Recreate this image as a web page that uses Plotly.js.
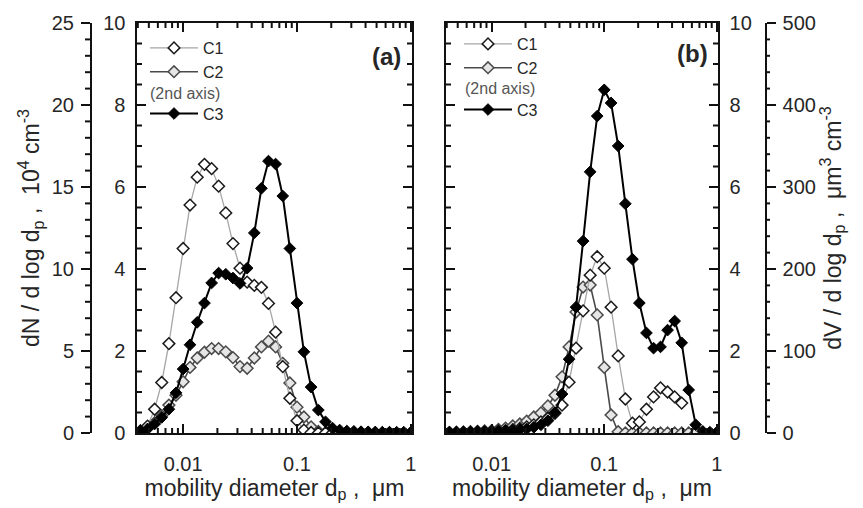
<!DOCTYPE html>
<html><head><meta charset="utf-8">
<script src="https://cdn.plot.ly/plotly-3.0.1.min.js"></script>
<style>html,body{margin:0;padding:0;background:#fff}#chart{width:863px;height:508px}</style>
</head><body><div id="chart"></div>
<script>
// mobility diameter, um (shared size bins)
const dp = [0.00422,0.00487,0.00562,0.00649,0.00750,0.00866,0.0100,0.0115,0.0133,0.0154,
            0.0178,0.0205,0.0237,0.0274,0.0316,0.0365,0.0422,0.0487,0.0562,0.0649,
            0.0750,0.0866,0.100,0.115,0.133,0.154,0.178,0.205,0.237,0.274,
            0.316,0.365,0.422,0.487,0.562,0.649,0.750,0.866,1.000];

// panel (a): dN/dlogdp, 1e4 cm^-3 (C1, C3) ; C2 on 2nd axis
const c1_a = [0.12,0.42,1.45,3.08,5.45,8.25,11.25,13.9,15.6,16.38,16.12,15.05,13.42,11.55,10.05,9.2,9.0,8.88,7.9,6.15,4.05,2.12,0.75,0.18,0.03,0,0,0,0,0,0,0,0,0];
const c2_a = [0.05,0.12,0.25,0.42,0.68,0.92,1.25,1.6,1.83,1.97,2.06,2.06,1.98,1.84,1.62,1.58,1.83,2.1,2.24,2.1,1.7,1.22,0.63,0.39,0.15,0.04,0.01,0,0,0,0,0,0,0,0,0];
const c3_a = [0.12,0.25,0.55,0.95,1.45,2.45,3.9,5.38,6.75,7.92,9.15,9.75,9.68,9.45,9.12,10.05,12.2,14.92,16.58,16.4,14.45,11.25,7.92,4.95,2.8,1.4,0.68,0.3,0.18,0.12,0.1,0.08,0.07,0.06,0.05,0.05,0.05,0.05,0.05];

// panel (b): dV/dlogdp, um^3 cm^-3 (C1, C3) ; C2 on 2nd axis
const c1_b = [0.5,0.5,1,1,1.5,1.5,2,2.5,3,4,5.5,7.5,10,13.5,18,24,34,62,103.5,149,192.5,215,201,153.5,94,41.5,12,13.5,29,44,55,50,44,36.5];
const c2_b = [0.01,0.02,0.02,0.03,0.04,0.05,0.06,0.09,0.12,0.17,0.22,0.29,0.39,0.49,0.66,0.92,1.37,2.1,2.95,3.56,3.61,2.88,1.6,0.44,0.03,0,0,0,0,0,0,0,0,0,0,0];
const c3_b = [1,1,1,1,1.5,1.5,1.5,2,2.5,3,4,5,7,10,15,25,47.5,90,153.5,234,318.5,386.5,418.5,402.5,350,279.5,212,158.5,122,103.5,105,125.5,136.5,110,52.5,10,2,1,1];

const seriesNames = ['C1','C2','C3'];
const xTickVals = [0.01,0.1,1];
const xTickText = ['0.01','0.1','1'];
const xMinorVals = [0.004,0.005,0.006,0.007,0.008,0.009,0.02,0.03,0.04,0.05,0.06,0.07,0.08,0.09,0.2,0.3,0.4,0.5,0.6,0.7,0.8,0.9];

const FONT = 'Liberation Sans, Arial, Helvetica, sans-serif';
const INK = '#111';
const TXT = '#262626';
const NB = '\u00a0';
const MAJ = 9, MIN = 5, TW = 2;

const style = {
  C1: {line:{color:'#a6a6a6', width:1.3}, marker:{symbol:'diamond', size:9, color:'#ffffff', line:{color:'#1a1a1a', width:1.5}}},
  C2: {line:{color:'#4a4a4a', width:1.6}, marker:{symbol:'diamond', size:9, color:'#e6e6e6', line:{color:'#4a4a4a', width:1.5}}},
  C3: {line:{color:'#000000', width:2}, marker:{symbol:'diamond', size:9, color:'#000000', line:{color:'#000000', width:1}}}
};

function tr(name, x, y, xa, ya, leg, grp){
  return Object.assign({type:'scatter', mode:'lines+markers', name:name, x:x.slice(0,y.length), y:y,
    xaxis:xa, yaxis:ya, legend:leg, legendgroup:grp, showlegend:true, cliponaxis:true}, JSON.parse(JSON.stringify(style[name])));
}

const data = [
  tr(seriesNames[0], dp, c1_a, 'x', 'y2', 'legend', 'a12'),
  tr(seriesNames[1], dp, c2_a, 'x', 'y', 'legend', 'a12'),
  tr(seriesNames[2], dp, c3_a, 'x', 'y2', 'legend', 'a3'),
  tr(seriesNames[0], dp, c1_b, 'x2', 'y4', 'legend2', 'b12'),
  tr(seriesNames[1], dp, c2_b, 'x2', 'y3', 'legend2', 'b12'),
  tr(seriesNames[2], dp, c3_b, 'x2', 'y4', 'legend2', 'b3')
];

const W = 863, H = 508;
const yDom = [1-433/H, 1-23/H];
const XR = [-2.405, 0.01];
const OUTER_A = 90/W, OUTER_B = 765/W;

const common = {showgrid:false, zeroline:false, automargin:false, linecolor:INK, linewidth:1.6, tickcolor:INK, tickwidth:TW,
  tickfont:{size:20, color:TXT, family:FONT}};

function xAxis(dom, anchor){
  return Object.assign({}, common, {domain:dom, anchor:anchor, type:'log', range:XR, showline:true,
    mirror:'ticks', ticks:'inside', ticklen:MAJ,
    tickmode:'array', tickvals:xTickVals, ticktext:xTickText, ticklabelstandoff:12,
    title:{text:'mobility diameter d<sub>p</sub>'+NB+','+NB+NB+'\u03bcm', font:{size:23, color:TXT, family:FONT}, standoff:5}});
}
function innerY(anchor, side){
  return Object.assign({}, common, {domain:yDom, anchor:anchor, side:side, range:[0,10], tick0:0, dtick:2, showline:true,
    mirror:'ticks', ticks:'inside', ticklen:MAJ, ticklabelstandoff:6});
}
function outerY(over, pos, side, rng, dt, title){
  return Object.assign({}, common, {overlaying:over, anchor:'free', position:pos, side:side, range:rng, tick0:0, dtick:dt, showline:true,
    ticks:'outside', ticklen:MAJ, ticklabelstandoff:3,
    title:{text:title, font:{size:23, color:TXT, family:FONT}, standoff:4}});
}

// minor tick marks, placed through the axes' own references
const shapes = [];
const tl = {color:INK, width:TW};
function xMinorTicks(xdom, ydom){
  xMinorVals.forEach(v => {
    const f = (Math.log10(v) - XR[0]) / (XR[1] - XR[0]);
    if (f < 0 || f > 1) return;
    shapes.push({type:'line', xref:xdom, yref:ydom, x0:f, x1:f, ysizemode:'pixel', yanchor:0, y0:0, y1:MIN, line:tl, layer:'above'});
    shapes.push({type:'line', xref:xdom, yref:ydom, x0:f, x1:f, ysizemode:'pixel', yanchor:1, y0:0, y1:-MIN, line:tl, layer:'above'});
  });
}
function yMinorTicks(yref, xref, anchors, top, major, minor){
  for (let v = minor; v < top - 1e-9; v += minor) {
    if (Math.abs(v / major - Math.round(v / major)) < 1e-6) continue;
    anchors.forEach(([a, dir]) => {
      shapes.push({type:'line', xref:xref, yref:yref, y0:v, y1:v, xsizemode:'pixel', xanchor:a, x0:0, x1:dir*MIN, line:tl, layer:'above'});
    });
  }
}
xMinorTicks('x domain', 'y domain');
xMinorTicks('x2 domain', 'y3 domain');
yMinorTicks('y', 'x domain', [[0, 1], [1, -1]], 10, 2, 0.5);
yMinorTicks('y3', 'x2 domain', [[0, 1], [1, -1]], 10, 2, 0.5);
yMinorTicks('y2', 'paper', [[OUTER_A, -1]], 25, 5, 1);
yMinorTicks('y4', 'paper', [[OUTER_B, 1]], 500, 100, 20);

const legendBase = {xanchor:'left', yanchor:'top', bgcolor:'rgba(0,0,0,0)', borderwidth:0,
  font:{size:16, color:TXT, family:FONT}, itemwidth:48, traceorder:'grouped', tracegroupgap:18};

const layout = {
  width:W, height:H, margin:{l:0, r:0, t:0, b:0}, paper_bgcolor:'#fff', plot_bgcolor:'rgba(0,0,0,0)',
  font:{family:FONT, color:TXT},
  xaxis: xAxis([137/W, 412/W], 'y'),
  xaxis2: xAxis([446/W, 718/W], 'y3'),
  yaxis: innerY('x', 'left'),
  yaxis2: outerY('y', OUTER_A, 'left', [0,25], 5, 'dN / d log d<sub>p</sub>'+NB+','+NB+NB+'10<sup>4</sup>'+NB+'cm<sup>-3</sup>'),
  yaxis3: innerY('x2', 'right'),
  yaxis4: outerY('y3', OUTER_B, 'right', [0,500], 100, 'dV / d log d<sub>p</sub>'+NB+','+NB+NB+'\u03bcm<sup>3</sup>'+NB+'cm<sup>-3</sup>'),
  legend: Object.assign({x:145/W, y:1-31/H}, legendBase),
  legend2: Object.assign({x:459/W, y:1-27/H}, legendBase),
  showlegend:true,
  shapes: shapes,
  annotations:[
    {text:'<b>(a)</b>', xref:'paper', yref:'paper', x:386/W, y:1-56/H, xanchor:'center', yanchor:'middle', showarrow:false, font:{size:24, color:TXT, family:FONT}},
    {text:'<b>(b)</b>', xref:'paper', yref:'paper', x:692/W, y:1-53/H, xanchor:'center', yanchor:'middle', showarrow:false, font:{size:24, color:TXT, family:FONT}},
    {text:'(2nd axis)', xref:'paper', yref:'paper', x:148/W, y:1-93/H, xanchor:'left', yanchor:'middle', showarrow:false, font:{size:16, color:'#555', family:FONT}},
    {text:'(2nd axis)', xref:'paper', yref:'paper', x:463/W, y:1-88/H, xanchor:'left', yanchor:'middle', showarrow:false, font:{size:16, color:'#555', family:FONT}}
  ]
};

Plotly.newPlot('chart', data, layout, {displayModeBar:false, staticPlot:true});
</script></body></html>
